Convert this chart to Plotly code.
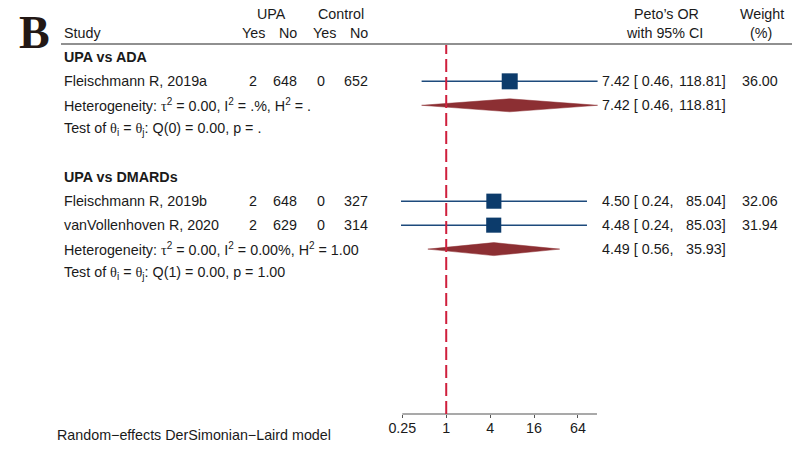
import math
import plotly.graph_objects as go

W, H = 802, 462

# ---------------- data ----------------
studies = ["Fleischmann R, 2019a", "Fleischmann R, 2019b", "vanVollenhoven R, 2020"]
study_rows = [1, 6, 7]
upa_yes = [2, 2, 2]
upa_no = [648, 648, 629]
ctl_yes = [0, 0, 0]
ctl_no = [652, 327, 314]
or_est = [7.42, 4.50, 4.48]
or_lo = [0.46, 0.24, 0.24]
or_hi = [118.81, 85.04, 85.03]
weights = [36.00, 32.06, 31.94]

group_labels = ["UPA vs ADA", "UPA vs DMARDs"]
group_rows = [0, 5]
pooled_rows = [2, 8]
pooled_est = [7.42, 4.49]
pooled_lo = [0.46, 0.56]
pooled_hi = [118.81, 35.93]
het_tau2 = ["0.00", "0.00"]
het_I2 = [".%", "0.00%"]
het_H2 = [".", "1.00"]
test_rows = [3, 9]
test_df = [0, 1]
test_Q = ["0.00", "0.00"]
test_p = [".", "1.00"]

tick_vals = [0.25, 1, 4, 16, 64]
tick_text = ["0.25", "1", "4", "16", "64"]
axis_end = 116.6
null_value = 1

footer = "Random\u2212effects DerSimonian\u2212Laird model"

# ---------------- style ----------------
FONT = "Liberation Sans, Arial, Helvetica, sans-serif"
SERIF = "Liberation Serif, Times New Roman, serif"
TXT = "#1a1a1a"
NAVY = "#0c3b6b"
CI_COL = "#1d4a7c"
DIA = "#8c2f33"
RED = "#cf1f3c"
FS = 14.3

def px(x):
    return x / W

def py(y):
    return 1 - y / H

# row geometry: pixel = 57.36 + 23.97*row ; axis line at pixel 414
row0, rowh, axis_y = 57.36, 23.97, 414.0
y_top = -row0 / rowh
y_bot = (axis_y - row0) / rowh

# x scale: 0.25 at pixel 402.3, 21.96 px per doubling
s10 = 21.96 / math.log10(2)
x_dom = (380, 620)
x_range = [math.log10(0.25) - (402.3 - x_dom[0]) / s10,
           math.log10(0.25) + (x_dom[1] - 402.3) / s10]

fig = go.Figure()

# CI lines
xs, ys = [], []
for lo, hi, r in zip(or_lo, or_hi, study_rows):
    xs += [lo, hi, None]
    ys += [r, r, None]
fig.add_trace(go.Scatter(x=xs, y=ys, mode="lines",
                         line=dict(color=CI_COL, width=1.5),
                         hoverinfo="skip", showlegend=False))

# weight squares
fig.add_trace(go.Scatter(
    x=or_est, y=study_rows, mode="markers",
    marker=dict(symbol="square", color=NAVY, opacity=1,
                size=[16 * math.sqrt(w / 36.0) for w in weights],
                line=dict(width=0)),
    hoverinfo="skip", showlegend=False))

# pooled diamonds
hh = 6.5 / rowh
for est, lo, hi, r in zip(pooled_est, pooled_lo, pooled_hi, pooled_rows):
    fig.add_trace(go.Scatter(
        x=[lo, est, hi, est, lo], y=[r, r - hh, r, r + hh, r],
        mode="lines", fill="toself", fillcolor=DIA,
        line=dict(color=DIA, width=0.5),
        hoverinfo="skip", showlegend=False))

ann = []

def T(text, x, y, xanchor="left", yref="y", size=FS, family=FONT, color=TXT):
    ann.append(dict(text=text, x=px(x), xref="paper", y=(y if yref == "y" else py(y)),
                    yref=yref, xanchor=xanchor, yanchor="middle", showarrow=False,
                    borderpad=0, borderwidth=0,
                    font=dict(size=size, family=family, color=color)))

# panel letter
ann.append(dict(text="<b>B</b>", x=px(34), xref="paper", y=py(33), yref="paper",
                xanchor="center", yanchor="middle", showarrow=False,
                font=dict(size=46, family=SERIF, color="#231815")))

# header
T("UPA", 271, 14, "center", "paper")
T("Control", 341, 14, "center", "paper")
T("Study", 64, 33, "left", "paper")
T("Yes", 265, 33, "right", "paper")
T("No", 297, 33, "right", "paper")
T("Yes", 336, 33, "right", "paper")
T("No", 368, 33, "right", "paper")
T("Peto\u2019s OR", 666, 14, "center", "paper")
T("with 95% CI", 664, 33, "center", "paper")
T("Weight", 762, 14, "center", "paper")
T("(%)", 761, 33, "center", "paper")

# group labels
for g, r in zip(group_labels, group_rows):
    T("<b>%s</b>" % g, 64, r)

# study rows
for i, r in enumerate(study_rows):
    T(studies[i], 64, r)
    T(str(upa_yes[i]), 257, r, "right")
    T(str(upa_no[i]), 297, r, "right")
    T(str(ctl_yes[i]), 325, r, "right")
    T(str(ctl_no[i]), 368, r, "right")
    T("%.2f [ %.2f," % (or_est[i], or_lo[i]), 602, r)
    T("%.2f]" % or_hi[i], 726, r, "right")
    T("%.2f" % weights[i], 778, r, "right")

# pooled rows
for k, r in enumerate(pooled_rows):
    T("Heterogeneity: <span style='font-family:%s'>\u03c4</span><sup>2</sup> = %s, "
      "I<sup>2</sup> = %s, H<sup>2</sup> = %s" % (SERIF, het_tau2[k], het_I2[k], het_H2[k]), 64, r)
    T("%.2f [ %.2f," % (pooled_est[k], pooled_lo[k]), 602, r)
    T("%.2f]" % pooled_hi[k], 726, r, "right")

for k, r in enumerate(test_rows):
    T("Test of <span style='font-family:%s'>\u03b8</span><sub>i</sub> = "
      "<span style='font-family:%s'>\u03b8</span><sub>j</sub>: Q(%d) = %s, p = %s"
      % (SERIF, SERIF, test_df[k], test_Q[k], test_p[k]), 64, r)

T(footer, 57, 435, "left", "paper")

shapes = [
    # header rule
    dict(type="line", xref="paper", yref="paper", x0=px(61), x1=px(792),
         y0=py(44), y1=py(44), line=dict(color="#222", width=1.2)),
    # axis line
    dict(type="line", xref="x", yref="y domain", x0=tick_vals[0], x1=axis_end,
         y0=0, y1=0, line=dict(color="#555", width=1.2)),
    # null line
    dict(type="line", xref="x", yref="y domain", x0=null_value, x1=null_value,
         y0=0, y1=1 - 45 / axis_y, line=dict(color=RED, width=2, dash="13px,5px")),
]

fig.update_layout(
    width=W, height=H, margin=dict(l=0, r=0, t=0, b=0),
    paper_bgcolor="white", plot_bgcolor="white",
    showlegend=False, annotations=ann, shapes=shapes,
    xaxis=dict(type="log", domain=[px(x_dom[0]), px(x_dom[1])], range=x_range,
               tickvals=tick_vals, ticktext=tick_text, ticks="outside", ticklen=3,
               ticklabelstandoff=-2,
               tickcolor="#555", tickwidth=1, showline=False, showgrid=False,
               zeroline=False, tickfont=dict(size=FS, family=FONT, color=TXT),
               fixedrange=True),
    yaxis=dict(domain=[1 - axis_y / H, 1], range=[y_bot, y_top], visible=False,
               fixedrange=True),
)

fig.write_html("out.html", config={"displayModeBar": False},
               post_script="document.body.style.margin='0';document.body.style.padding='0';")
